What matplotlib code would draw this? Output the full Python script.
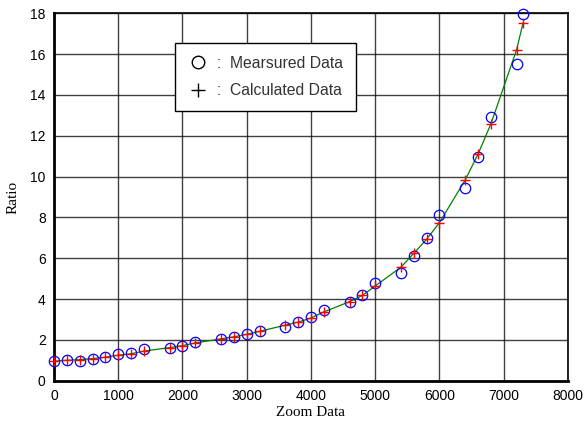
import matplotlib.pyplot as plt
from matplotlib.lines import Line2D

# zoom positions and ratios
zoom = [0, 200, 400, 600, 800, 1000, 1200, 1400, 1800, 2000, 2200, 2600, 2800,
        3000, 3200, 3600, 3800, 4000, 4200, 4600, 4800, 5000, 5400, 5600, 5800,
        6000, 6400, 6600, 6800, 7200, 7300]
measured = [0.96, 1.0, 0.98, 1.08, 1.15, 1.29, 1.34, 1.55, 1.60, 1.70, 1.88, 2.04,
            2.12, 2.27, 2.45, 2.65, 2.89, 3.14, 3.47, 3.87, 4.20, 4.79, 5.29, 6.10,
            6.98, 8.12, 9.43, 10.98, 12.94, 15.52, 17.96]
calculated = [0.96, 1.0, 1.03, 1.08, 1.15, 1.25, 1.32, 1.45, 1.62, 1.72, 1.85, 2.05,
              2.15, 2.27, 2.42, 2.72, 2.87, 3.07, 3.37, 3.87, 4.18, 4.64, 5.56, 6.24,
              6.93, 7.75, 9.83, 11.1, 12.58, 16.21, 17.52]

xticks = [0, 1000, 2000, 3000, 4000, 5000, 6000, 7000, 8000]
yticks = [0, 2, 4, 6, 8, 10, 12, 14, 16, 18]

fig = plt.figure(figsize=(5.87, 4.23), dpi=100)
ax = fig.add_axes([0.092, 0.1, 0.8756, 0.8686])

ax.plot(zoom, calculated, color='green', linewidth=0.9, zorder=2)
ax.plot(zoom, measured, 'o', markerfacecolor='none', markeredgecolor='blue',
        markersize=7.5, markeredgewidth=0.9, zorder=3, clip_on=False)
ax.plot(zoom, calculated, '+', color='red', markersize=6.5, markeredgewidth=1.0,
        zorder=4, clip_on=False)

ax.set_xlim(0, 8000)
ax.set_ylim(0, 18)
ax.set_xticks(xticks)
ax.set_yticks(yticks)
ax.grid(True, color='black', linewidth=1.0, alpha=0.75)
ax.set_axisbelow(True)
ax.tick_params(length=0, pad=6, labelsize=10)
for lab in ax.get_xticklabels() + ax.get_yticklabels():
    lab.set_family('Liberation Sans')

for s in ['left', 'bottom']:
    ax.spines[s].set_linewidth(2)
for s in ['top', 'right']:
    ax.spines[s].set_linewidth(1.2)

ax.set_xlabel('Zoom Data', family='Liberation Serif', fontsize=11, labelpad=2)
ax.set_ylabel('Ratio', family='Liberation Serif', fontsize=11, labelpad=8)

handles = [Line2D([], [], marker='o', linestyle='none', markerfacecolor='none',
                  markeredgecolor='black', markersize=9),
           Line2D([], [], marker='+', linestyle='none', color='black', markersize=10)]
leg = ax.legend(handles, [':  Mearsured Data', ':  Calculated Data'],
                loc='upper left', bbox_to_anchor=(0.235, 0.919), borderaxespad=0,
                fancybox=False, framealpha=1, edgecolor='black', handletextpad=0.6,
                handlelength=1.3, borderpad=0.8, labelspacing=0.8,
                prop={'family': 'Liberation Sans', 'size': 11.3})
leg.get_frame().set_linewidth(1.0)
for t in leg.get_texts():
    t.set_color('#333333')

fig.savefig('out.png', dpi=100)
